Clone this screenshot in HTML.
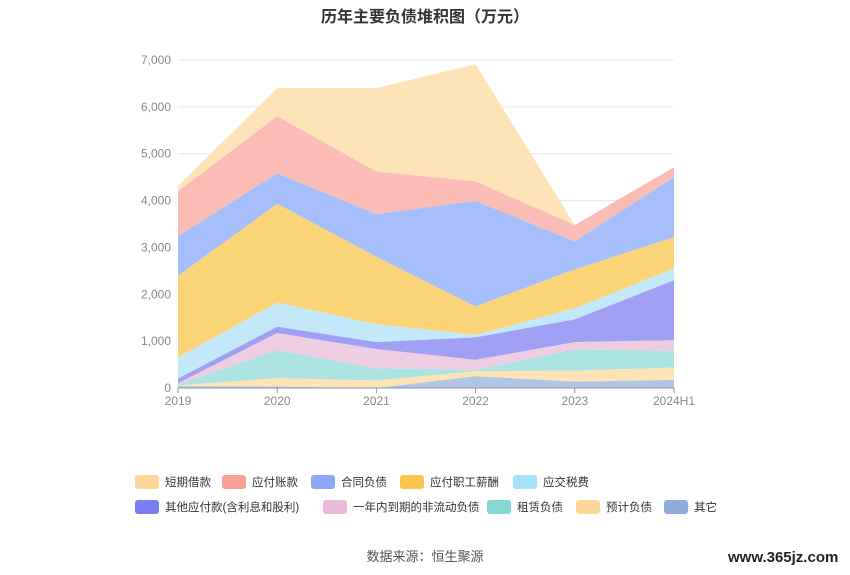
<!DOCTYPE html>
<html><head><meta charset="utf-8"><style>
body{margin:0;background:#fff;font-family:"Liberation Sans","Noto Sans CJK SC",sans-serif;}
#w{position:relative;width:850px;height:575px;overflow:hidden}
.t{position:absolute;white-space:nowrap}
.lg{position:absolute;font-size:11.5px;color:#333;display:flex;align-items:center}
.lg i{display:inline-block;width:24px;height:14px;border-radius:3px;margin-right:6px}
</style></head><body><div id="w">
<div class="t" style="left:0;width:850px;text-align:center;top:3px;font-size:16px;font-weight:bold;color:#333">历年主要负债堆积图（万元）</div>
<svg id="s" width="850" height="575" style="position:absolute;left:0;top:0"></svg>
<div class="lg" style="left:135px;top:474px"><i style="background:#fdd698"></i>短期借款</div>
<div class="lg" style="left:222px;top:474px"><i style="background:#f9a197"></i>应付账款</div>
<div class="lg" style="left:311px;top:474px"><i style="background:#8ea8f8"></i>合同负债</div>
<div class="lg" style="left:400px;top:474px"><i style="background:#fcc64e"></i>应付职工薪酬</div>
<div class="lg" style="left:513px;top:474px"><i style="background:#a6e1fb"></i>应交税费</div>
<div class="lg" style="left:135px;top:499px"><i style="background:#7c7cf2"></i>其他应付款(含利息和股利)</div>
<div class="lg" style="left:323px;top:499px"><i style="background:#e8bbd9"></i>一年内到期的非流动负债</div>
<div class="lg" style="left:487px;top:499px"><i style="background:#86d6d4"></i>租赁负债</div>
<div class="lg" style="left:576px;top:499px"><i style="background:#fdd698"></i>预计负债</div>
<div class="lg" style="left:664px;top:499px"><i style="background:#8fabd9"></i>其它</div>
<div class="t" style="left:0;width:850px;text-align:center;top:546px;font-size:13px;color:#555">数据来源：恒生聚源</div>
<div class="t" style="left:728px;top:549px;font-size:15px;font-weight:bold;color:#222">www.365jz.com</div>
</div>
<script>
var s=document.getElementById('s'),h='';
function X(i){return 178+i*99.2}function Y(v){return 388-v*0.046857}
for(var k=1;k<=7;k++){var y=Y(k*1000);h+='<line x1="178" x2="674" y1="'+y+'" y2="'+y+'" stroke="#e3e6f0"/>';
h+='<text x="171" y="'+(y+4)+'" text-anchor="end" font-size="12" fill="#888">'+(k*1000).toLocaleString('en')+'</text>';}
h+='<text x="171" y="392" text-anchor="end" font-size="12" fill="#888">0</text>';
var cum=[[40,55,70,100,200,650,2390,3240,4200,4310],[30,210,810,1170,1310,1820,3930,4580,5800,6400],[0,160,420,830,980,1360,2800,3710,4620,6400],[250,360,385,600,1080,1130,1740,3990,4410,6910],[135,370,825,980,1465,1700,2530,3130,3480,3480],[170,435,790,1020,2300,2550,3220,4500,4710,4710]];
var col=['#b0c4e4','#fde3b5','#abe2e2','#eecde2','#a0a0f5','#c3e8f9','#fcd478','#a6bffc','#fbbcb6','#fde3b5'];
for(var L=9;L>=0;L--){var p=[];for(var i=0;i<6;i++)p.push(X(i)+','+Y(cum[i][L]));for(var i=5;i>=0;i--)p.push(X(i)+','+Y(L?cum[i][L-1]:0));
h+='<polygon points="'+p.join(' ')+'" fill="'+col[L]+'"/>';}
h+='<line x1="178" x2="674" y1="388" y2="388" stroke="#8a96b0"/>';
var lb=['2019','2020','2021','2022','2023','2024H1'];
for(var i=0;i<6;i++){h+='<line x1="'+X(i)+'" x2="'+X(i)+'" y1="388" y2="393" stroke="#8a96b0"/><text x="'+X(i)+'" y="405" text-anchor="middle" font-size="12" fill="#888">'+lb[i]+'</text>';}
s.innerHTML=h;
</script></body></html>
